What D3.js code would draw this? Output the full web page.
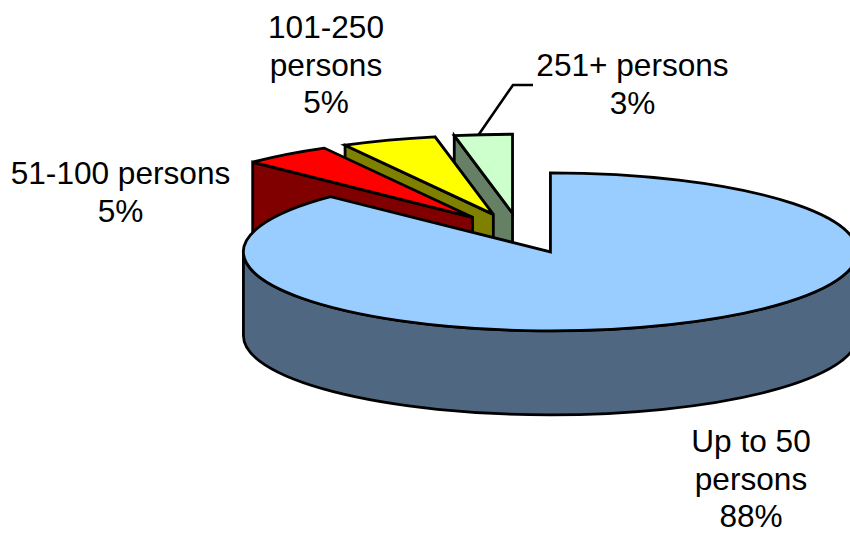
<!DOCTYPE html>
<html>
<head>
<meta charset="utf-8">
<script src="https://cdn.jsdelivr.net/npm/d3@7"></script>
<style>
  html, body { margin: 0; padding: 0; background: #fff; }
  text { font-family: "Liberation Sans", Arial, sans-serif; font-size: 31.6px; fill: #000; }
</style>
</head>
<body>
<svg id="chart" width="850" height="533"></svg>
<script>
const categories = ['Up to 50 persons', '51-100 persons', '101-250 persons', '251+ persons']
const percents = [87.6, 4.7, 5, 3.05]
const percentLabels = ['88%', '5%', '5%', '3%']
const topColors = ['#99ccff', '#ff0000', '#ffff00', '#ccffcc']
const sideColors = ['#4f6780', '#800000', '#808000', '#668066']
const labelLines = [['Up to 50', 'persons'], ['51-100 persons'], ['101-250', 'persons'], ['251+ persons']]
const labelCenters = [[751, 452], [120.5, 184], [326, 38], [632.5, 76]]

const rx = 307
const ry = 79
const depth = 84
const explode = 0.255
const pieCenter = [520, 233.3]
const lineHeight = 37.5

const svg = d3.select('#chart')
const slices = d3.pie().sort(null).value((d) => d)(percents)

const onRim = (c, a) => [c[0] + rx * Math.sin(a), c[1] - ry * Math.cos(a)]

slices.forEach((s) => {
  const mid = (s.startAngle + s.endAngle) / 2
  s.apex = [pieCenter[0] + explode * rx * Math.sin(mid), pieCenter[1] - explode * ry * Math.cos(mid)]
  s.from = onRim(s.apex, s.startAngle)
  s.to = onRim(s.apex, s.endAngle)
  s.large = s.endAngle - s.startAngle > Math.PI ? 1 : 0
})

const topPath = (s) => `M${s.apex}L${s.from}A${rx},${ry} 0 ${s.large} 1 ${s.to}Z`

const g = svg.append('g')
  .attr('stroke', '#000')
  .attr('stroke-width', 2.8)

// small slices back to front, each one with its cut face hanging below the left radius
slices.slice(1).reverse().forEach((s) => {
  const i = s.index
  g.append('path')
    .attr('d', `M${s.from}L${s.apex}L${s.apex[0]},${s.apex[1] + depth}L${s.from[0]},${s.from[1] + depth}Z`)
    .attr('fill', sideColors[i])
  g.append('path').attr('d', topPath(s)).attr('fill', topColors[i])
})

// big slice goes last, it hides the bottom of all the others
const main = slices[0]
const left = [main.apex[0] - rx, main.apex[1]]
const right = [main.apex[0] + rx, main.apex[1]]
g.append('path')
  .attr('d', `M${left}L${left[0]},${left[1] + depth}A${rx},${ry} 0 0 0 ${right[0]},${right[1] + depth}L${right}A${rx},${ry} 0 0 1 ${left}Z`)
  .attr('fill', sideColors[0])
g.append('path').attr('d', topPath(main)).attr('fill', topColors[0])

// leader for the 251+ label
const last = slices[3]
const leaderStart = onRim(last.apex, last.startAngle + 0.42 * (last.endAngle - last.startAngle))
svg.append('path')
  .attr('d', `M${leaderStart}L513,85H533`)
  .attr('fill', 'none')
  .attr('stroke', '#000')
  .attr('stroke-width', 2.6)

categories.forEach((name, i) => {
  const lines = labelLines[i].concat(percentLabels[i])
  svg.append('text')
    .attr('text-anchor', 'middle')
    .attr('aria-label', name)
    .selectAll('tspan')
    .data(lines)
    .join('tspan')
    .attr('x', labelCenters[i][0])
    .attr('y', (d, j) => labelCenters[i][1] + j * lineHeight)
    .text((d) => d)
})
</script>
</body>
</html>
